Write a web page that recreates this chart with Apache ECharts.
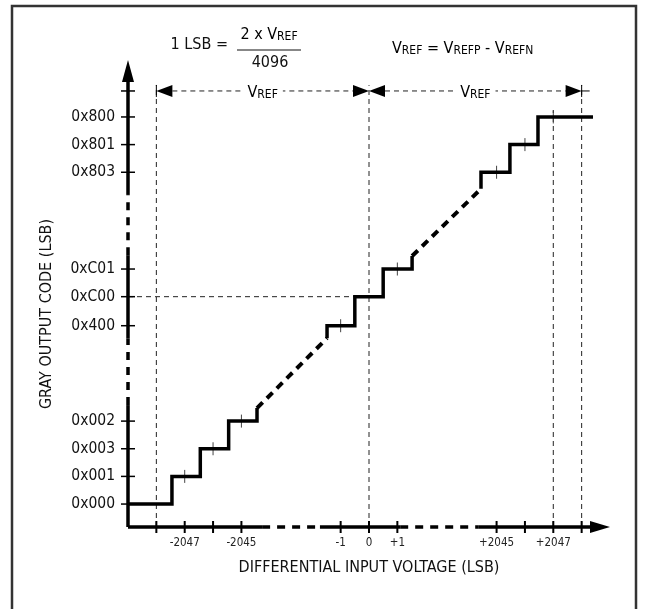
<!DOCTYPE html>
<html><head><meta charset="utf-8">
<script src="https://cdn.jsdelivr.net/npm/echarts@6/dist/echarts.min.js"></script>
<style>html,body{margin:0;padding:0;background:#fff}#c{width:648px;height:609px}</style>
</head><body><div id="c"></div>
<script>
const FONT = '"Liberation Sans Narrow","DejaVu Sans Condensed","Roboto Condensed",sans-serif';
const FS = 16;

// ---- data (schematic LSB slots on x, code levels on y) ----
const xTickPos   = [1, 2, 3, 4, 7.5, 8.5, 9.5, 13, 14, 15, 16];
const xLabelPos  = [2, 4, 7.5, 8.5, 9.5, 13, 15];
const xLabelText = ['-2047', '-2045', '-1', '0', '+1', '+2045', '+2047'];
const yLevelPos  = [0, 1, 2, 3, 6.45, 7.5, 8.5, 12, 13, 14];
const yLevelText = ['0x000', '0x001', '0x003', '0x002', '0x400', '0xC00', '0xC01', '0x803', '0x801', '0x800'];
const stairLow  = [[0,0],[1.55,0],[1.55,1],[2.55,1],[2.55,2],[3.55,2],[3.55,3],[4.55,3],[4.55,3.47]];
const stairMid  = [[7.02,6.0],[7.02,6.45],[8.0,6.45],[8.0,7.5],[9.0,7.5],[9.0,8.5],[10.02,8.5],[10.02,8.97]];
const stairHigh = [[12.45,11.4],[12.45,12],[13.47,12],[13.47,13],[14.46,13],[14.46,14],[16.4,14]];
const skipLow   = [[4.55,3.47],[7.02,6.0]];
const skipHigh  = [[10.02,8.97],[12.45,11.4]];
const codeCentres = [[2,1],[3,2],[4,3],[7.5,6.45],[9.5,8.5],[13,12],[14,13],[15,14]];

// ---- axis / annotation geometry in the same units ----
const X_MIN = 0, X_MAX = 17, Y_MIN = -0.83, Y_MAX = 16.06;
const DIM_Y = 14.94;
const xAxisSolid  = [[0,4.73],[6.77,9.6],[12.35,16.4]];
const xAxisDashed = [[4.73,6.77],[9.6,12.35]];
const yAxisSolid  = [[Y_MIN,3.58],[6.0,9.0],[11.18,15.4]];
const yAxisDashed = [[3.58,6.0],[9.0,11.18]];
const vGuides = [[1,15.15],[8.5,15.15],[15,14.25],[16,15.15]];
const hGuides = [[0,8.0,7.5]];
const dims = [[1,8.5],[8.5,16]];

const segs = (arr, f) => arr.map(f);
const axisSolidSegs  = segs(xAxisSolid, s => [s[0],Y_MIN,s[1],Y_MIN]).concat(segs(yAxisSolid, s => [0,s[0],0,s[1]]));
const axisDashedSegs = segs(xAxisDashed, s => [s[0],Y_MIN,s[1],Y_MIN]).concat(segs(yAxisDashed, s => [0,s[0],0,s[1]]));
const guideSegs = segs(vGuides, g => [g[0],Y_MIN,g[0],g[1]]).concat(segs(hGuides, g => [g[0],g[2],g[1],g[2]]));

function segSeries(data, style) {
  return {
    type: 'custom', data, silent: true, animation: false,
    renderItem(params, api) {
      const p1 = api.coord([api.value(0), api.value(1)]);
      const p2 = api.coord([api.value(2), api.value(3)]);
      return {type:'line', shape:{x1:p1[0],y1:p1[1],x2:p2[0],y2:p2[1]}, style};
    }
  };
}
function tickSeries(data, dx, dy, style) {
  return {
    type: 'custom', data, silent: true, animation: false,
    renderItem(params, api) {
      const p = api.coord([api.value(0), api.value(1)]);
      return {type:'line', shape:{x1:p[0]-dx,y1:p[1]-dy,x2:p[0]+dx,y2:p[1]+dy}, style};
    }
  };
}
const vrefRich = {
  v: {fontSize: FS, fontFamily: FONT, color: '#111', verticalAlign: 'bottom', lineHeight: 19},
  s: {fontSize: 12, fontFamily: FONT, color: '#111', verticalAlign: 'bottom', lineHeight: 17}
};

const chart = echarts.init(document.getElementById('c'), null, {renderer: 'canvas'});
chart.setOption({
  animation: false,
  backgroundColor: '#fff',
  grid: {left: 128, right: 38, top: 60, bottom: 82, containLabel: false},
  xAxis: {
    type: 'value', min: X_MIN, max: X_MAX,
    axisLine: {show: false}, axisTick: {show: false}, splitLine: {show: false},
    axisLabel: {
      customValues: xLabelPos, margin: 10, fontSize: 11.5, fontFamily: FONT, color: '#222',
      formatter: v => { const i = xLabelPos.findIndex(p => Math.abs(p - v) < 1e-6); return i < 0 ? '' : xLabelText[i]; }
    },
    name: 'DIFFERENTIAL INPUT VOLTAGE (LSB)', nameLocation: 'middle', nameGap: 33,
    nameTextStyle: {fontSize: FS, fontFamily: FONT, color: '#111'}
  },
  yAxis: {
    type: 'value', min: Y_MIN, max: Y_MAX,
    axisLine: {show: false}, axisTick: {show: false}, splitLine: {show: false},
    axisLabel: {
      customValues: yLevelPos, margin: 13, fontSize: 15.5, fontFamily: FONT, color: '#111',
      formatter: v => { const i = yLevelPos.findIndex(p => Math.abs(p - v) < 1e-6); return i < 0 ? '' : yLevelText[i]; }
    }
  },
  series: [
    segSeries(guideSegs, {stroke: '#222', lineWidth: 1, lineDash: [5, 4]}),
    segSeries(axisSolidSegs, {stroke: '#000', lineWidth: 3.5}),
    segSeries(axisDashedSegs, {stroke: '#000', lineWidth: 3.5, lineDash: [8, 7]}),
    tickSeries(xTickPos.map(x => [x, Y_MIN]), 0, 6, {stroke: '#000', lineWidth: 2}),
    tickSeries(yLevelPos.concat([DIM_Y]).map(y => [0, y]), 7, 0, {stroke: '#000', lineWidth: 1.5}),
    tickSeries(codeCentres, 0, 6.5, {stroke: '#444', lineWidth: 1}),
    {type: 'line', data: stairLow, symbol: 'none', silent: true, lineStyle: {color: '#000', width: 3.5, join: 'miter'}},
    {type: 'line', data: stairMid, symbol: 'none', silent: true, lineStyle: {color: '#000', width: 3.5, join: 'miter'}},
    {type: 'line', data: stairHigh, symbol: 'none', silent: true, lineStyle: {color: '#000', width: 3.5, join: 'miter'}},
    {type: 'line', data: skipLow, symbol: 'none', silent: true, lineStyle: {color: '#000', width: 4, type: [8, 6]}},
    {type: 'line', data: skipHigh, symbol: 'none', silent: true, lineStyle: {color: '#000', width: 4, type: [8, 6]}},
    // axis arrowheads
    {
      type: 'custom', silent: true, data: [[0, Y_MAX, 0], [X_MAX, Y_MIN, 1]],
      renderItem(params, api) {
        const p = api.coord([api.value(0), api.value(1)]);
        const pts = api.value(2) === 0
          ? [[p[0], p[1]], [p[0] - 6, p[1] + 22], [p[0] + 6, p[1] + 22]]
          : [[p[0], p[1]], [p[0] - 20, p[1] - 6], [p[0] - 20, p[1] + 6]];
        return {type: 'polygon', shape: {points: pts}, style: {fill: '#000'}};
      }
    },
    // V_REF dimension arrows
    {
      type: 'custom', silent: true, data: dims.map(d => [d[0], d[1], DIM_Y]),
      renderItem(params, api) {
        const a = api.coord([api.value(0), api.value(2)]);
        const b = api.coord([api.value(1), api.value(2)]);
        const y = a[1], L = 16, H = 6;
        const kids = [
          {type: 'line', shape: {x1: a[0] + L, y1: y, x2: b[0] - L, y2: y}, style: {stroke: '#222', lineWidth: 1, lineDash: [5, 4]}},
          {type: 'polygon', shape: {points: [[a[0], y], [a[0] + L, y - H], [a[0] + L, y + H]]}, style: {fill: '#000'}},
          {type: 'polygon', shape: {points: [[b[0], y], [b[0] - L, y - H], [b[0] - L, y + H]]}, style: {fill: '#000'}},
          {type: 'text', x: (a[0] + b[0]) / 2, y: y, style: {text: '{v|V}{s|REF}', rich: vrefRich, align: 'center', verticalAlign: 'middle', backgroundColor: '#fff', padding: [0, 5]}}
        ];
        if (params.dataIndex === 0) kids.push({type: 'line', shape: {x1: a[0], y1: y - 6, x2: a[0], y2: y + 6}, style: {stroke: '#000', lineWidth: 1}});
        if (params.dataIndex === dims.length - 1) {
          kids.push({type: 'line', shape: {x1: b[0], y1: y - 6, x2: b[0], y2: y + 6}, style: {stroke: '#000', lineWidth: 1}});
          kids.push({type: 'line', shape: {x1: b[0], y1: y, x2: b[0] + 8, y2: y}, style: {stroke: '#000', lineWidth: 1}});
        }
        return {type: 'group', children: kids};
      }
    }
  ],
  graphic: [
    {type: 'rect', shape: {x: 12, y: 6, width: 624, height: 640}, style: {fill: 'none', stroke: '#333', lineWidth: 2.5}, silent: true},
    {type: 'text', x: 47, y: 314, rotation: Math.PI / 2, silent: true,
     style: {text: 'GRAY OUTPUT CODE (LSB)', font: FS + 'px ' + FONT, fill: '#111', align: 'center', verticalAlign: 'middle'}},
    {type: 'text', x: 228, y: 45, silent: true,
     style: {text: '1 LSB =', font: FS + 'px ' + FONT, fill: '#111', align: 'right', verticalAlign: 'middle'}},
    {type: 'text', x: 269, y: 33, silent: true,
     style: {text: '{v|2 x V}{s|REF}', rich: vrefRich, align: 'center', verticalAlign: 'middle'}},
    {type: 'line', shape: {x1: 237, y1: 50, x2: 301, y2: 50}, style: {stroke: '#111', lineWidth: 1.2}, silent: true},
    {type: 'text', x: 270, y: 63, silent: true,
     style: {text: '4096', font: FS + 'px ' + FONT, fill: '#111', align: 'center', verticalAlign: 'middle'}},
    {type: 'text', x: 392, y: 47, silent: true,
     style: {text: '{v|V}{s|REF}{v| = V}{s|REFP}{v| - V}{s|REFN}', rich: vrefRich, align: 'left', verticalAlign: 'middle'}}
  ]
});
</script>
</body></html>
